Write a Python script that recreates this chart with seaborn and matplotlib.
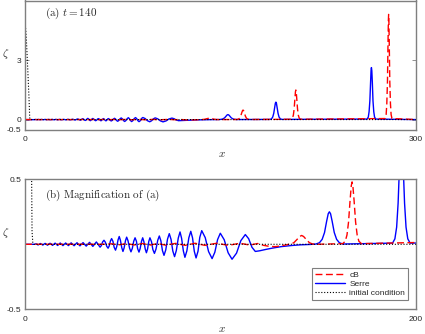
import numpy as np
import pandas as pd
import seaborn as sns
import matplotlib
matplotlib.use('Agg')
import matplotlib.pyplot as plt
from matplotlib.lines import Line2D

# ---------------- data ----------------
# Serre solution (blue)
x_serre = [0, 5.0,
           5.6, 6.7, 7.9, 9.1, 10.3, 11.5, 12.8, 14.1, 15.4, 16.7, 18.0, 19.4, 20.8, 22.2,
           23.6, 25.1, 26.6, 28.1, 29.7, 31.3, 33.0, 34.7, 36.5,
           38.4, 39.1, 39.7, 40.4, 41.1, 41.8, 42.5, 43.1, 43.7, 44.3, 45.0, 45.6, 46.3,
           46.9, 47.6, 48.2, 48.8, 49.5, 50.1, 50.7, 51.4, 52.0, 52.7, 53.5, 54.2, 54.9,
           55.6, 56.3, 57.0, 57.6, 58.3, 58.9, 59.6, 60.2, 60.8, 61.5, 62.1, 62.7, 63.3,
           63.9, 64.7, 65.4, 66.2, 67.0, 67.9, 68.7, 69.5, 70.3, 71.1, 72.0, 72.9, 73.8,
           74.7, 75.6, 76.5, 77.4, 78.4, 79.3, 80.1, 81.0, 81.8, 82.8, 83.8, 84.8, 85.7,
           86.6, 87.5, 88.5, 89.4, 90.4, 92.2, 93.9, 95.7, 97.1, 98.5, 99.9, 101.9, 103.9,
           105.9, 108.2, 110.4, 112.7, 114.4, 116.1, 117.8,
           120.0, 123.0, 126.3, 131.0, 136.6, 141.0, 146.0,
           148.8, 150.6, 152.0, 153.2, 154.3, 155.1, 155.7, 156.3, 157.1, 158.2, 159.4, 160.8, 162.6,
           188.0, 189.2, 190.1, 190.85, 191.6, 192.1, 192.5, 192.9, 193.4, 194.15, 194.9, 195.8, 197.0,
           262.5, 263.4, 264.0, 264.6, 265.1, 265.5, 265.8, 266.1, 266.5, 267.0, 267.6, 268.2, 269.1,
           300]
zeta_serre = [0, 0,
              0.004, -0.005, 0.006, -0.006, 0.007, -0.007, 0.008, -0.008, 0.009, -0.009, 0.01, -0.01, 0.01, -0.01,
              0.011, -0.011, 0.012, -0.012, 0.013, -0.014, 0.015, -0.016, 0.018,
              -0.022, -0.009, 0.018, 0.031, 0.016, -0.015, -0.03, -0.012, 0.026, 0.044, 0.022, -0.023, -0.045,
              -0.019, 0.034, 0.06, 0.031, -0.026, -0.055, -0.028, 0.028, 0.055, 0.027, -0.030, -0.058, -0.031,
              0.023, 0.05, 0.023, -0.033, -0.06, -0.033, 0.023, 0.05, 0.021, -0.036, -0.065, -0.036, 0.021,
              0.05, 0.020, -0.040, -0.07, -0.037, 0.031, 0.064, 0.027, -0.048, -0.085, -0.043, 0.040, 0.082,
              0.038, -0.051, -0.095, -0.048, 0.048, 0.095, 0.046, -0.051, -0.1, -0.05, 0.05, 0.1, 0.049,
              -0.054, -0.105, -0.053, 0.053, 0.105, 0.051, -0.056, -0.11, -0.061, 0.036, 0.085, 0.035, -0.065,
              -0.115, -0.068, 0.028, 0.075, 0.043, -0.023, -0.055,
              -0.05, -0.04, -0.03, -0.018, -0.009, -0.004, -0.001,
              0.002, 0.012, 0.038, 0.09, 0.178, 0.235, 0.25, 0.235, 0.178, 0.09, 0.038, 0.012, 0.002,
              0.009, 0.042, 0.132, 0.316, 0.627, 0.827, 0.88, 0.827, 0.627, 0.316, 0.132, 0.042, 0.009,
              0.026, 0.126, 0.393, 0.941, 1.864, 2.463, 2.62, 2.463, 1.864, 0.941, 0.393, 0.126, 0.026,
              0]

# cB solution (red dashed)
x_cb = [0, 40, 44, 48, 52, 56, 60, 64, 68, 72, 77, 82, 87, 92, 98, 104, 110, 115, 119,
        122, 125, 128, 131, 134, 136, 137.5, 139, 140.5, 141.5, 142.5, 144, 145.5, 147, 149,
        162.5, 163.8, 164.7, 165.5, 166.3, 166.9, 167.3, 167.7, 168.3, 169.1, 169.9, 170.8, 172.1,
        204.2, 205.2, 205.9, 206.5, 207.1, 207.5, 207.8, 208.1, 208.5, 209.1, 209.7, 210.4, 211.4,
        276.45, 277.1, 277.6, 278.1, 278.5, 278.8, 279.0, 279.2, 279.5, 279.9, 280.4, 280.9, 281.55,
        300]
zeta_cb = [0, 0, 0.004, -0.004, 0.005, -0.005, 0.006, -0.006, 0.006, -0.007, 0.007, -0.008, 0.008, -0.008,
           0.008, -0.008, 0.008, -0.006, 0.006,
           -0.008, -0.016, -0.018, -0.012, -0.003, 0.003, 0.012, 0.035, 0.06, 0.068, 0.06, 0.035, 0.012, 0.003, 0,
           0.005, 0.023, 0.072, 0.172, 0.342, 0.451, 0.48, 0.451, 0.342, 0.172, 0.072, 0.023, 0.005,
           0.015, 0.072, 0.224, 0.535, 1.06, 1.40, 1.49, 1.40, 1.06, 0.535, 0.224, 0.072, 0.015,
           0.052, 0.254, 0.798, 1.903, 3.771, 4.982, 5.3, 4.982, 3.771, 1.903, 0.798, 0.254, 0.052,
           0]

# initial condition (dotted)
x_init = [0, 1.0, 2.0, 3.0, 3.4, 3.6, 4.0, 4.5, 300]
zeta_init = [5.05, 4.1, 2.7, 1.2, 0.5, 0.1, 0.01, 0, 0]

panel_titles = [r'$\mathrm{(a)}\ t = 140$', r'$\mathrm{(b)\ Magnification\ of\ (a)}$']
xlims = [(0, 300), (0, 200)]
ylims = [(-0.5, 6.0), (-0.5, 0.5)]
xticks = [[0, 300], [0, 200]]
yticks = [[-0.5, 0, 3], [-0.5, 0.5]]
ytick_labels = [['-0.5', '0', '3'], ['-0.5', '0.5']]
legend_labels = ['cB', 'Serre', 'initial condition']

# ---------------- style ----------------
sns.set_style('ticks')
plt.rcParams['font.family'] = ['Liberation Sans', 'DejaVu Sans']
plt.rcParams['mathtext.fontset'] = 'cm'

W, H = 425, 334
fig = plt.figure(figsize=(W / 100, H / 100), dpi=100)
ax_a = fig.add_axes([25 / W, 1 - 129.5 / H, 391 / W, 129 / H])
ax_b = fig.add_axes([25 / W, 1 - 309.3 / H, 391 / W, 130 / H])

frame_col = '#7f7f7f'
for k, ax in enumerate([ax_a, ax_b]):
    sns.lineplot(x=x_serre, y=zeta_serre, ax=ax, color='#0000ff', lw=1.0,
                 sort=False, estimator=None)
    sns.lineplot(x=x_cb, y=zeta_cb, ax=ax, color='#ff0000', lw=1.0,
                 sort=False, estimator=None, linestyle=(0, (5, 2.5)))
    sns.lineplot(x=x_init, y=zeta_init, ax=ax, color='black', lw=0.8,
                 sort=False, estimator=None, linestyle=(0, (1, 1.6)))
    ax.set_xlim(*xlims[k])
    ax.set_ylim(*ylims[k])
    ax.set_xticks(xticks[k])
    ax.set_xticklabels([str(v) for v in xticks[k]], fontsize=6)
    ax.set_yticks(yticks[k])
    ax.set_yticklabels(ytick_labels[k], fontsize=6)
    ax.tick_params(direction='in', length=3, width=0.6, color=frame_col,
                   right=True, top=True, pad=2.5)
    ax.tick_params(axis='x', pad=5)
    for sp in ax.spines.values():
        sp.set_visible(True)
        sp.set_color(frame_col)
        sp.set_linewidth(1.0)
    ax.set_xlabel(r'$x$', fontsize=8)
    ax.set_ylabel(r'$\zeta$', fontsize=8, rotation=0)
    ax.yaxis.set_label_coords(-0.05, 0.53)
    ax.text(0.05, 0.90 if k == 0 else 0.88, panel_titles[k], transform=ax.transAxes,
            fontsize=8, va='center', ha='left')

ax_a.xaxis.set_label_coords(0.504, -0.15)
ax_b.xaxis.set_label_coords(0.504, -0.115)

handles = [Line2D([], [], color='#ff0000', lw=1.0, linestyle=(0, (5, 2.5))),
           Line2D([], [], color='#0000ff', lw=1.0),
           Line2D([], [], color='black', lw=0.8, linestyle=(0, (1, 1.6)))]
leg = ax_b.legend(handles, legend_labels, loc='lower right', bbox_to_anchor=(0.98, 0.07),
                  fontsize=6, frameon=True, fancybox=False, framealpha=1,
                  edgecolor=frame_col, handlelength=3.6, handletextpad=0.5,
                  borderpad=0.35, labelspacing=0.15, borderaxespad=0)
leg.get_frame().set_linewidth(0.8)

fig.savefig('out.png', dpi=100)
